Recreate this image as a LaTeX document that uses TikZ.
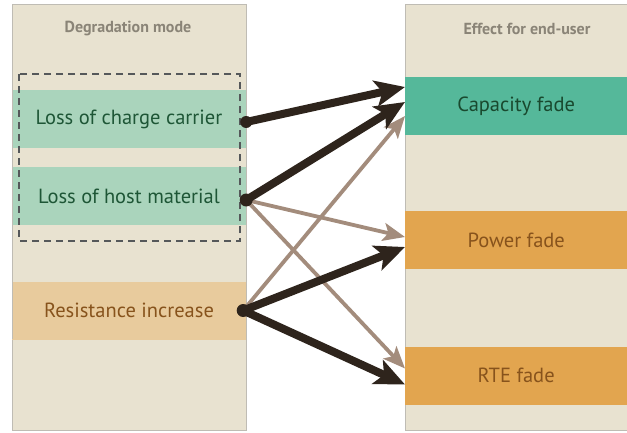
\documentclass[tikz,border=0pt]{standalone}
\usepackage{fontspec}
\setmainfont{PT Sans}
\usetikzlibrary{arrows.meta}
\definecolor{panel}{HTML}{E8E2D0}
\definecolor{panelline}{HTML}{BFBCB4}
\definecolor{lgreen}{HTML}{AAD4BC}
\definecolor{dgreen}{HTML}{55B89A}
\definecolor{lorange}{HTML}{E8CB9D}
\definecolor{dorange}{HTML}{E2A54F}
\definecolor{gtext}{HTML}{1E5636}
\definecolor{btext}{HTML}{87531C}
\definecolor{ttext}{HTML}{8A8477}
\definecolor{darr}{HTML}{2E241C}
\definecolor{larr}{HTML}{A38C7C}
\definecolor{dashc}{HTML}{55585A}
\tikzset{
  panelbox/.style={draw=panelline, line width=0.8pt, fill=panel},
  band/.style={draw=none, minimum height=58pt, inner sep=0pt, font=\fontsize{20.5}{24}\selectfont},
  ttl/.style={text=ttext, font=\bfseries\fontsize{16}{19}\selectfont},
  darkarrow/.style={darr, line width=8pt, -{Stealth[length=30pt,width=26pt,inset=7pt]}},
  lightarrow/.style={larr, line width=3.8pt, -{Stealth[length=22pt,width=18pt,inset=5pt]}},
  startdot/.style={fill=darr},
}
\begin{document}
\begin{tikzpicture}[x=1pt,y=-1pt]
\useasboundingbox (0,0) rectangle (627,432);
\fill[white] (0,0) rectangle (627,432);
% panels
\draw[panelbox] (12,4) rectangle (246,430);
\draw[panelbox] (405,4) rectangle (640,430);
\node[ttl] (t1) at (128,29) {Degradation mode};
\node[ttl] (t2) at (527,29) {Effect for end-user};
% left bands
\node[band, fill=lgreen, text=gtext, minimum width=234pt] (lcc) at (129,119) {Loss of charge carrier};
\node[band, fill=lgreen, text=gtext, minimum width=234pt] (lhm) at (129,196) {Loss of host material};
\node[band, fill=lorange, text=btext, minimum width=234pt] (res) at (129,310.5) {Resistance increase};
\draw[panelline, line width=0.8pt] (12,90) -- (12,339);
% dashed group
\draw[dashc, line width=1.3pt, dash pattern=on 7pt off 5pt] (19,74) rectangle (240,241);
% right bands
\node[band, fill=dgreen, text=gtext!85!black, minimum width=222pt, anchor=west] (cap) at (405,106) {Capacity fade};
\node[band, fill=dorange, text=btext, minimum width=222pt, anchor=west] (pow) at (405,240) {Power fade};
\node[band, fill=dorange, text=btext, minimum width=222pt, anchor=west] (rte) at (405,375.5) {RTE fade};
% start points
\coordinate (s1) at ([yshift=-3pt]lcc.east);
\coordinate (s2) at ([yshift=-4pt]lhm.east);
\coordinate (s3) at ([xshift=-3pt,yshift=0pt]res.east);
% arrows
\draw[lightarrow] (s3) -- ([yshift=-10pt]cap.west);
\draw[lightarrow] (s2) -- ([yshift=3pt]pow.west);
\draw[lightarrow] (s2) -- ([yshift=7pt]rte.west);
\draw[darkarrow] (s1) -- ([yshift=19pt]cap.west);
\draw[darkarrow] (s2) -- ([yshift=4pt]cap.west);
\draw[darkarrow] (s3) -- ([yshift=-7pt]pow.west);
\draw[darkarrow] (s3) -- ([yshift=-9pt]rte.west);
\fill[startdot] (s1) circle (6pt);
\fill[startdot] (s2) circle (6.5pt);
\fill[startdot] (s3) circle (6.5pt);
\end{tikzpicture}
\end{document}
